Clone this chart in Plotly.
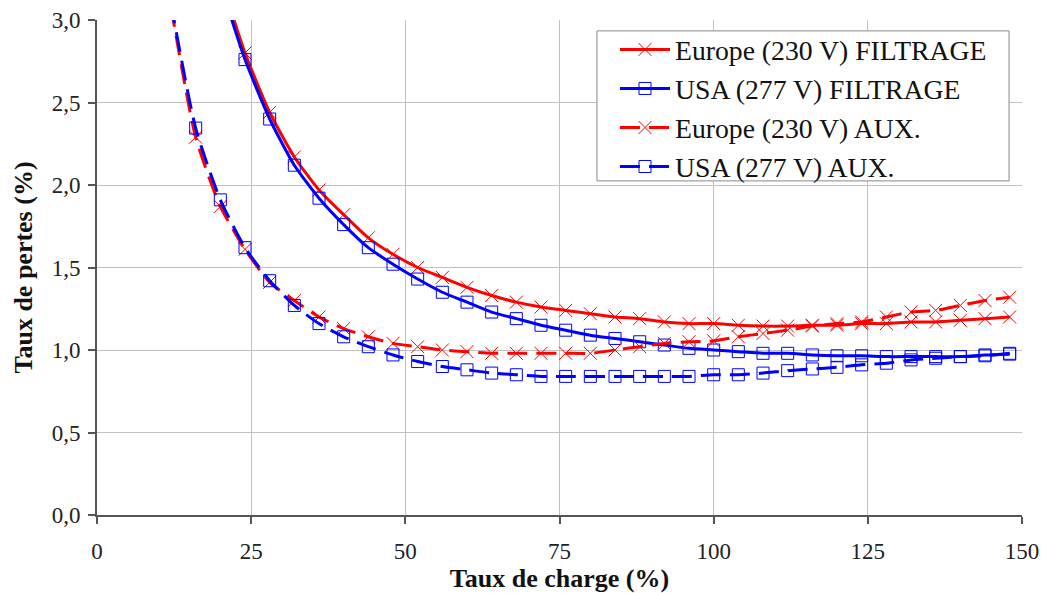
import plotly.graph_objects as go

x_filt = [20, 24, 28, 32, 36, 40, 44, 48, 52, 56, 60, 64, 68, 72, 76, 80, 84, 88, 92, 96,
          100, 104, 108, 112, 116, 120, 124, 128, 132, 136, 140, 144, 148]
eu_filt = [3.26, 2.80, 2.44, 2.17, 1.97, 1.82, 1.68, 1.58, 1.50, 1.44, 1.38, 1.33, 1.29, 1.26, 1.24, 1.22, 1.20, 1.19, 1.17, 1.16,
           1.16, 1.15, 1.145, 1.145, 1.15, 1.15, 1.16, 1.16, 1.17, 1.17, 1.18, 1.19, 1.20]
us_filt = [3.22, 2.76, 2.40, 2.12, 1.92, 1.76, 1.62, 1.52, 1.43, 1.35, 1.29, 1.23, 1.19, 1.15, 1.12, 1.09, 1.07, 1.05, 1.03, 1.01,
           1.00, 0.99, 0.98, 0.98, 0.97, 0.965, 0.965, 0.96, 0.96, 0.96, 0.96, 0.97, 0.975]

x_aux = [12, 16, 20, 24, 28, 32, 36, 40, 44, 48, 52, 56, 60, 64, 68, 72, 76, 80, 84, 88, 92, 96,
         100, 104, 108, 112, 116, 120, 124, 128, 132, 136, 140, 144, 148]
eu_aux = [3.08, 2.29, 1.87, 1.61, 1.41, 1.30, 1.20, 1.13, 1.08, 1.04, 1.02, 1.00, 0.99, 0.98, 0.98, 0.98, 0.98, 0.98, 1.00, 1.02, 1.04, 1.05,
          1.055, 1.08, 1.10, 1.12, 1.145, 1.16, 1.17, 1.20, 1.23, 1.24, 1.27, 1.30, 1.32]
us_aux = [3.10, 2.345, 1.91, 1.62, 1.42, 1.27, 1.16, 1.08, 1.02, 0.97, 0.93, 0.90, 0.88, 0.86, 0.85, 0.84, 0.84, 0.84, 0.84, 0.84, 0.84, 0.84,
          0.85, 0.85, 0.86, 0.875, 0.885, 0.895, 0.91, 0.92, 0.94, 0.95, 0.96, 0.965, 0.98]

names = ["Europe (230 V) FILTRAGE", "USA (277 V) FILTRAGE", "Europe (230 V) AUX.", "USA (277 V) AUX."]

RED = "#ff0000"
BLUE = "#0000ff"

fig = go.Figure()

def add(xs, ys, name, color, symbol, dash, size):
    fig.add_trace(go.Scatter(
        x=xs, y=ys, name=name, mode="lines+markers",
        line=dict(color=color, width=3, dash=dash, shape="spline", smoothing=0.6),
        marker=dict(symbol=symbol, size=size, color=color,
                    line=dict(color=color, width=1)),
    ))

add(x_filt, eu_filt, names[0], RED, "x-thin", "solid", 13)
add(x_filt, us_filt, names[1], BLUE, "square-open", "solid", 12)
add(x_aux, eu_aux, names[2], RED, "x-thin", "20px,9px", 13)
add(x_aux, us_aux, names[3], BLUE, "square-open", "20px,9px", 12)

serif = "Liberation Serif, Times New Roman, serif"

# legend frame (white box with grey border) drawn as a shape
fig.add_shape(type="rect", xref="paper", yref="paper",
              x0=0.5405, x1=0.986, y0=0.675, y1=0.978,
              fillcolor="white", line=dict(color="#888888", width=1), layer="above")

fig.update_layout(
    width=1047, height=593,
    margin=dict(l=89, r=33, t=12, b=86),
    paper_bgcolor="white", plot_bgcolor="white",
    separators=", ",
    font=dict(family=serif, size=23, color="#222222"),
    showlegend=True,
    legend=dict(
        x=0.56, y=0.99, xanchor="left", yanchor="top",
        bgcolor="rgba(0,0,0,0)", borderwidth=0,
        font=dict(family=serif, size=27.7, color="#111111"),
        itemwidth=50, tracegroupgap=0,
    ),
    xaxis=dict(
        range=[0, 150], tickvals=[0, 25, 50, 75, 100, 125, 150],
        showgrid=True, gridcolor="#c0c0c0", gridwidth=1,
        showline=True, linecolor="#555555", linewidth=2,
        ticks="outside", ticklen=7, tickcolor="#555555", tickwidth=2,
        ticklabelstandoff=7, automargin=False,
        zeroline=False,
        title=dict(text="<b>Taux de charge (%)</b>", font=dict(family=serif, size=26, color="#111111"), standoff=0),
    ),
    yaxis=dict(
        range=[0, 3.0], tickvals=[0, 0.5, 1.0, 1.5, 2.0, 2.5, 3.0], tickformat=".1f",
        showgrid=True, gridcolor="#c0c0c0", gridwidth=1,
        showline=True, linecolor="#555555", linewidth=2,
        ticks="outside", ticklen=7, tickcolor="#555555", tickwidth=2,
        ticklabelstandoff=3, automargin=False,
        zeroline=False,
        title=dict(text="<b>Taux de pertes (%)</b>", font=dict(family=serif, size=26, color="#111111"), standoff=12),
    ),
)

fig.write_html("out.html")
